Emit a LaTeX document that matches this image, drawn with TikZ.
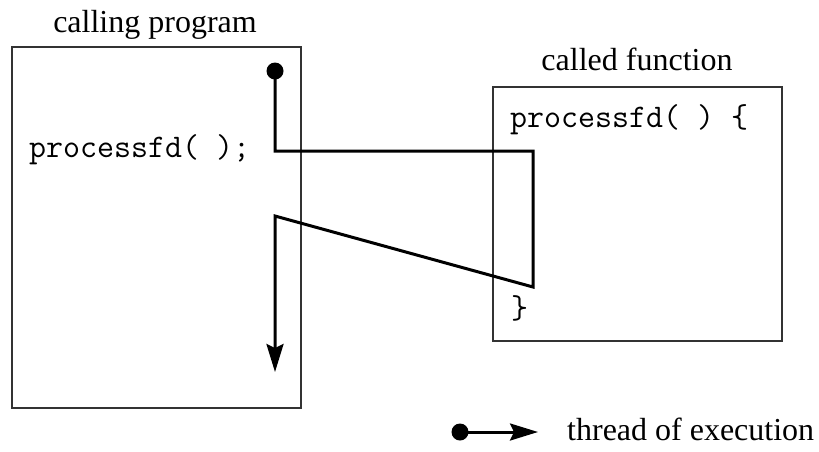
\documentclass[tikz,border=0pt]{standalone}
\usepackage{fontspec}
\setmainfont{Liberation Serif}
\usetikzlibrary{arrows.meta,positioning}
\definecolor{boxline}{HTML}{333333}
\tikzset{
  progbox/.style={draw=boxline, line width=1.8pt, inner sep=0pt},
  boxtitle/.style={font=\fontsize{32}{38}\selectfont, inner sep=0pt, anchor=base},
  codetext/.style={font=\ttfamily\fontsize{33}{38}\selectfont, inner sep=0pt, anchor=base west},
  thread/.style={line width=3pt, black},
  threadend/.style={thread, -{Stealth[length=28pt, width=17pt, inset=4pt]}},
  threaddot/.style={circle, fill=black, minimum size=17pt, inner sep=0pt},
}

\begin{document}
\begin{tikzpicture}[x=1pt, y=-1pt]
  \useasboundingbox (0,0) rectangle (819,451);
  % caller and callee
  \node[progbox, minimum width=289pt, minimum height=361pt] (caller) at (156.5,227.5) {};
  \node[progbox, minimum width=289pt, minimum height=254pt] (callee) at (637.5,214) {};
  \node[boxtitle] (callertitle) at (155,32) {calling program};
  \node[boxtitle] (calleetitle) at (637,70) {called function};
  \node[codetext] (callstmt) at (29,157) {processfd( );};
  \node[codetext] (fnhead) at (510,127) {processfd( ) \{};
  \node[codetext] (fnclose) at (511,318) {\}};

  % thread of execution through the call
  \node[threaddot] (start) at (275,71) {};
  \coordinate (callpt) at (275,151);
  \coordinate (entry) at (533,151);
  \coordinate (exitpt) at (533,287);
  \coordinate (retpt) at (275,216);
  \coordinate (finish) at (275,372);
  \draw[threadend] (start.center) -- (callpt) -- (entry) -- (exitpt) -- (retpt) -- (finish);

  % legend
  \node[threaddot] (legdot) at (460,432) {};
  \coordinate (legtip) at (538,432);
  \draw[threadend] (legdot.center) -- (legtip);
  \node[boxtitle, anchor=base west] (legtext) at (567,440) {thread of execution};
\end{tikzpicture}
\end{document}
